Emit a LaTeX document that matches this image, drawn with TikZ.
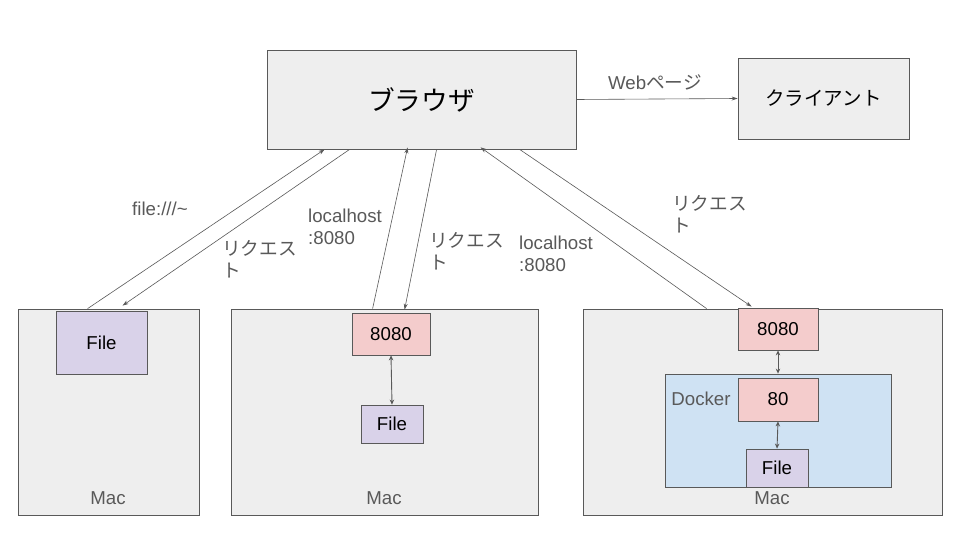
\documentclass[tikz,border=0pt]{standalone}
\usepackage{fontspec}
\setmainfont{Liberation Sans}
\newfontfamily\cjk{Noto Sans CJK JP}
\usetikzlibrary{arrows.meta,calc}
\definecolor{macgray}{HTML}{EEEEEE}
\definecolor{edgegray}{HTML}{595959}
\definecolor{lblgray}{HTML}{595959}
\definecolor{filepurple}{HTML}{D9D2E9}
\definecolor{portpink}{HTML}{F4CCCC}
\definecolor{dockblue}{HTML}{CFE2F3}
\begin{document}
\begin{tikzpicture}[x=1pt,y=-1pt,
  box/.style={draw=edgegray,line width=0.8pt,inner sep=0pt,rectangle},
  graybox/.style={box,fill=macgray},
  filebox/.style={box,fill=filepurple,font=\fontsize{18.67}{21}\selectfont},
  portbox/.style={box,fill=portpink,font=\fontsize{18.67}{21}\selectfont},
  conn/.style={draw=edgegray,line width=0.6pt,-{Stealth[length=6pt,width=4pt]}},
  bidir/.style={draw=edgegray,line width=0.9pt,{Stealth[length=5pt,width=4.5pt]}-{Stealth[length=5pt,width=4.5pt]}},
  lbl/.style={text=lblgray,font=\fontsize{18.67}{22}\selectfont,inner sep=0pt,align=left},
  jlbl/.style={lbl,font=\cjk\fontsize{18.67}{22}\selectfont},
  maclbl/.style={text=lblgray,font=\fontsize{18.67}{21}\selectfont,inner sep=0pt}
]
\useasboundingbox (0,0) rectangle (960,540);
\fill[white] (0,0) rectangle (960,540);
% top
\node[graybox,minimum width=309pt,minimum height=99pt,font=\cjk\fontsize{26.67}{30}\selectfont] (browser) at (421.5,99.5) {ブラウザ};
\node[graybox,minimum width=171pt,minimum height=81pt,font=\cjk\fontsize{19.5}{22}\selectfont] (client) at (823.5,98.5) {クライアント};
% mac boxes
\node[graybox,minimum width=181pt,minimum height=206pt] (mac1) at (108.5,412) {};
\node[graybox,minimum width=307pt,minimum height=206pt] (mac2) at (384.5,412) {};
\node[graybox,minimum width=359pt,minimum height=206pt] (mac3) at (762.5,412) {};
\node[maclbl] (maclbl1) at (108,498) {Mac};
\node[maclbl] (maclbl2) at (384,498) {Mac};
\node[maclbl] (maclbl3) at (772,498) {Mac};
% mac1
\node[filebox,minimum width=91pt,minimum height=63pt] (file1) at (101.5,342.5) {File};
% mac2
\node[portbox,minimum width=78pt,minimum height=42pt] (p1) at (391,334) {8080};
\node[filebox,minimum width=62pt,minimum height=38pt] (file2) at (392,424) {File};
\draw[bidir] (p1.south) -- (file2.north);
% mac3
\node[portbox,minimum width=80pt,minimum height=42pt] (p2) at (778,329) {8080};
\node[box,fill=dockblue,minimum width=226pt,minimum height=113pt] (docker) at (778,430.5) {};
\node[maclbl] (dockerlbl) at (701,399) {Docker};
\node[portbox,minimum width=80pt,minimum height=43pt] (p3) at (778,399.5) {80};
\node[filebox,minimum width=62pt,minimum height=38pt] (file3) at (777,468) {File};
\draw[bidir] (p2.south) -- (docker.north);
\draw[bidir] (p3.south) -- (file3.north);
% browser -> client
\draw[conn] (browser.east) -- (client.west);
\node[lbl] (weblbl) at (655,82) {Web{\cjk ページ}};
% connectors
\draw[conn] ($(mac1.north west)+(70,0)$) -- ($(browser.south west)+(58,0)$);
\draw[conn] ($(browser.south west)+(83,0)$) -- ($(mac1.north west)+(105,-3)$);
\draw[conn] ($(mac2.north west)+(142,0)$) -- ($(browser.south west)+(141,-2)$);
\draw[conn] ($(browser.south west)+(170,0)$) -- ($(p1.north west)+(53,-3)$);
\draw[conn] ($(mac3.north west)+(124,0)$) -- ($(browser.south west)+(214,-2)$);
\draw[conn] ($(browser.south west)+(253,0)$) -- ($(p2.north west)+(14,-1)$);
% labels
\node[lbl] (l1) at (160,209) {file:///\textasciitilde};
\node[jlbl,anchor=north west] (l2) at (222,240) {リクエス\\ト};
\node[lbl,anchor=north west] (l3) at (308,209) {localhost\\:8080};
\node[jlbl,anchor=north west] (l4) at (429,232) {リクエス\\ト};
\node[lbl,anchor=north west] (l5) at (519,236) {localhost\\:8080};
\node[jlbl,anchor=north west] (l6) at (672,195) {リクエス\\ト};
\end{tikzpicture}
\end{document}
